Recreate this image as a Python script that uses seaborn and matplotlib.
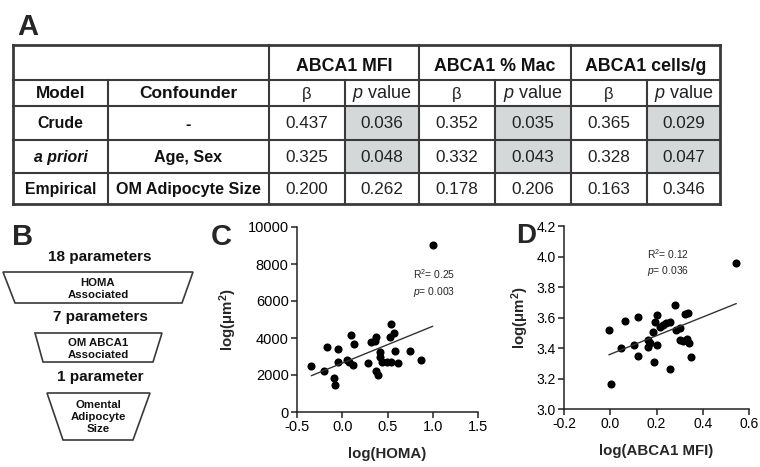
import numpy as np
import pandas as pd
import matplotlib
matplotlib.use("Agg")
import matplotlib.pyplot as plt
from matplotlib.patches import Rectangle, Polygon
import seaborn as sns

# ---------------- data ----------------
measures = ["ABCA1 MFI", "ABCA1 % Mac", "ABCA1 cells/g"]
models = ["Crude", "a priori", "Empirical"]
confounders = ["-", "Age, Sex", "OM Adipocyte Size"]
beta_mfi = [0.437, 0.325, 0.200]
p_mfi = [0.036, 0.048, 0.262]
beta_mac = [0.352, 0.332, 0.178]
p_mac = [0.035, 0.043, 0.206]
beta_cells = [0.365, 0.328, 0.163]
p_cells = [0.029, 0.047, 0.346]

funnel_counts = ["18 parameters", "7 parameters", "1 parameter"]
funnel_stages = ["HOMA\nAssociated", "OM ABCA1\nAssociated", "Omental\nAdipocyte\nSize"]

homa_x = [-0.342, -0.202, -0.166, -0.088, -0.085, -0.052, -0.052, 0.052, 0.096, 0.132,
          0.07, 0.118, 0.284, 0.32, 0.375, 0.36, 0.412, 0.42, 0.375, 0.40,
          0.438, 0.49, 0.54, 0.538, 0.53, 0.574, 0.585, 0.62, 0.75, 0.872, 1.0]
homa_y = [2500, 2200, 3510, 1850, 1475, 3400, 2720, 2810, 4160, 3675,
          2700, 2540, 2630, 3770, 4040, 3850, 3260, 2990, 2220, 2000,
          2720, 2720, 2720, 4760, 4040, 4250, 3310, 2630, 3310, 2810, 9000]

mfi_x = [-0.006, 0.003, 0.045, 0.063, 0.102, 0.121, 0.121, 0.164, 0.171, 0.164,
         0.2, 0.19, 0.2, 0.193, 0.186, 0.214, 0.229, 0.243, 0.257, 0.279,
         0.26, 0.286, 0.3, 0.322, 0.337, 0.3, 0.315, 0.33, 0.341, 0.348, 0.545]
mfi_y = [3.517, 3.162, 3.401, 3.576, 3.419, 3.604, 3.349, 3.452, 3.43, 3.408,
         3.419, 3.31, 3.615, 3.571, 3.506, 3.539, 3.55, 3.561, 3.571, 3.681,
         3.26, 3.517, 3.528, 3.626, 3.63, 3.452, 3.447, 3.456, 3.434, 3.338, 3.96]

stats_c = ["R$^2$= 0.25", "$p$= 0.003"]
stats_d = ["R$^2$= 0.12", "$p$= 0.036"]

# ---------------- style ----------------
sns.set_theme(style="ticks")
plt.rcParams["font.family"] = ["Liberation Sans", "DejaVu Sans"]
plt.rcParams["mathtext.fontset"] = "custom"
plt.rcParams["mathtext.rm"] = "Liberation Sans"
plt.rcParams["mathtext.it"] = "Liberation Sans:italic"
plt.rcParams["mathtext.bf"] = "Liberation Sans:bold"
plt.rcParams["axes.unicode_minus"] = False

W, H = 760, 467
fig = plt.figure(figsize=(7.6, 4.67), dpi=100)
fig.patch.set_facecolor("white")

ov = fig.add_axes([0, 0, 1, 1])
ov.set_xlim(0, W)
ov.set_ylim(H, 0)
ov.axis("off")

# ---------------- Panel A: table ----------------
ov.text(17, 35, "A", fontsize=21, fontweight="bold", ha="left", va="baseline")
col_x = [13, 108, 269, 345, 419, 495, 571, 647, 720]
row_y = [45, 80, 106, 140, 173, 204]
line_c = "#3a3a3a"
txt_c = "#222222"

betas = [beta_mfi, beta_mac, beta_cells]
pvs = [p_mfi, p_mac, p_cells]

for m in range(3):
    for r in range(3):
        if pvs[m][r] < 0.05:
            x0 = col_x[3 + 2 * m]
            x1 = col_x[4 + 2 * m]
            ov.add_patch(Rectangle((x0, row_y[2 + r]), x1 - x0, row_y[3 + r] - row_y[2 + r],
                                   facecolor="#d4d8d8", edgecolor="none", zorder=0))

for y in row_y:
    lw = 2.0 if y in (row_y[0], row_y[-1]) else 1.5
    ov.plot([col_x[0], col_x[-1]], [y, y], color=line_c, lw=lw, solid_capstyle="projecting")
for i, x in enumerate(col_x):
    lw = 2.0 if i in (0, len(col_x) - 1) else 1.5
    y0 = row_y[1] if x in (col_x[1], col_x[3], col_x[5], col_x[7]) else row_y[0]
    ov.plot([x, x], [y0, row_y[-1]], color=line_c, lw=lw, solid_capstyle="projecting")

def cx(i):
    return (col_x[i] + col_x[i + 1]) / 2

def cy(j):
    return (row_y[j] + row_y[j + 1]) / 2 + 1

for m, name in enumerate(measures):
    xm = (col_x[2 + 2 * m] + col_x[4 + 2 * m]) / 2
    ov.text(xm, cy(0) + 3, name, fontsize=12.8, fontweight="bold", ha="center", va="center",
            color="#111111")
    ov.text(cx(2 + 2 * m), cy(1), "β", fontsize=12, ha="center", va="center", color=txt_c)
    ov.text(cx(3 + 2 * m), cy(1), "$p$ value", fontsize=13, ha="center", va="center",
            color=txt_c)
ov.text(cx(0), cy(1), "Model", fontsize=12.3, fontweight="bold", ha="center", va="center",
        color="#111111")
ov.text(cx(1), cy(1), "Confounder", fontsize=12.5, fontweight="bold", ha="center",
        va="center", color="#111111")

for r in range(3):
    style = "italic" if models[r] == "a priori" else "normal"
    ov.text(cx(0), cy(2 + r), models[r], fontsize=11.4, fontweight="bold", fontstyle=style,
            ha="center", va="center", color="#111111")
    ov.text(cx(1), cy(2 + r), confounders[r], fontsize=11.6, fontweight="bold",
            ha="center", va="center", color="#111111")
    for m in range(3):
        ov.text(cx(2 + 2 * m), cy(2 + r), f"{betas[m][r]:.3f}", fontsize=12.3,
                ha="center", va="center", color=txt_c)
        ov.text(cx(3 + 2 * m), cy(2 + r), f"{pvs[m][r]:.3f}", fontsize=12.3,
                ha="center", va="center", color=txt_c)

# ---------------- Panel B: funnel ----------------
ov.text(12, 245, "B", fontsize=21, fontweight="bold", ha="left", va="baseline")
count_y = [257, 317, 377]
traps = [((3, 193), (15, 182), 272, 303),
         ((35, 162), (43, 153), 333, 362),
         ((47, 150), (63, 133), 393, 440)]
for k in range(3):
    ov.text(100, count_y[k], funnel_counts[k], fontsize=11, fontweight="bold",
            ha="center", va="center", color="#111111")
    (tx0, tx1), (bx0, bx1), ty, by = traps[k]
    ov.add_patch(Polygon([(tx0, ty), (tx1, ty), (bx1, by), (bx0, by)], closed=True,
                         facecolor="white", edgecolor=line_c, lw=1.2))
    ov.text((tx0 + tx1) / 2, (ty + by) / 2 + 1, funnel_stages[k], fontsize=8.2,
            fontweight="bold", ha="center", va="center", linespacing=1.25,
            color="#111111")

# ---------------- scatter panels ----------------
def px_axes(x0, x1, y0, y1):
    return fig.add_axes([x0 / W, 1 - y1 / H, (x1 - x0) / W, (y1 - y0) / H])

def style_ax(ax, ls):
    sns.despine(ax=ax)
    ax.set_facecolor("none")
    for s in ("left", "bottom"):
        ax.spines[s].set_linewidth(1.1)
        ax.spines[s].set_color("#222222")
    ax.tick_params(axis="both", length=4.5, width=1.1, labelsize=ls, colors="#222222",
                   pad=1.5)
    for lab in ax.get_xticklabels() + ax.get_yticklabels():
        lab.set_color("black")

ylab = "log(μm$^\\mathbf{2}$)"

# Panel C
axc = px_axes(297, 478, 227, 412)
dfc = pd.DataFrame({"x": homa_x, "y": homa_y})
sns.regplot(data=dfc, x="x", y="y", ax=axc, ci=None, color="black",
            scatter_kws=dict(s=34, linewidths=0, alpha=1),
            line_kws=dict(lw=1.0, color="#333333"))
xt_c = [-0.5, 0.0, 0.5, 1.0, 1.5]
axc.set_xlim(-0.5, 1.5)
axc.set_ylim(0, 10000)
axc.set_xticks(xt_c)
axc.set_xticklabels([f"{v:.1f}" for v in xt_c])
axc.set_yticks(range(0, 10001, 2000))
axc.set_xlabel("log(HOMA)", fontsize=10.8, fontweight="bold", labelpad=9)
axc.set_ylabel(ylab, fontsize=10.8, fontweight="bold", labelpad=6)
style_ax(axc, 10.5)
axc.text(0.641, 0.746, stats_c[0], transform=axc.transAxes, fontsize=7.4, ha="left", va="center")
axc.text(0.641, 0.65, stats_c[1], transform=axc.transAxes, fontsize=7.4, ha="left", va="center")
ov.text(211, 245, "C", fontsize=21, fontweight="bold", ha="left", va="baseline")

# Panel D
axd = px_axes(564, 749, 226, 409)
dfd = pd.DataFrame({"x": mfi_x, "y": mfi_y})
sns.regplot(data=dfd, x="x", y="y", ax=axd, ci=None, color="black",
            scatter_kws=dict(s=34, linewidths=0, alpha=1),
            line_kws=dict(lw=1.0, color="#333333"))
xt_d = [-0.2, 0.0, 0.2, 0.4, 0.6]
yt_d = [3.0, 3.2, 3.4, 3.6, 3.8, 4.0, 4.2]
axd.set_xlim(-0.2, 0.6)
axd.set_ylim(3.0, 4.2)
axd.set_xticks(xt_d)
axd.set_xticklabels([f"{v:.1f}" for v in xt_d])
axd.set_yticks(yt_d)
axd.set_yticklabels([f"{v:.1f}" for v in yt_d])
axd.set_xlabel("log(ABCA1 MFI)", fontsize=10.8, fontweight="bold", labelpad=9)
axd.set_ylabel(ylab, fontsize=10.8, fontweight="bold", labelpad=4)
style_ax(axd, 10)
axd.text(0.449, 0.847, stats_d[0], transform=axd.transAxes, fontsize=7.4, ha="left", va="center")
axd.text(0.449, 0.754, stats_d[1], transform=axd.transAxes, fontsize=7.4, ha="left", va="center")
ov.text(516, 243, "D", fontsize=20, fontweight="bold", ha="left", va="baseline")

fig.savefig("out.png", dpi=100, facecolor="white")
